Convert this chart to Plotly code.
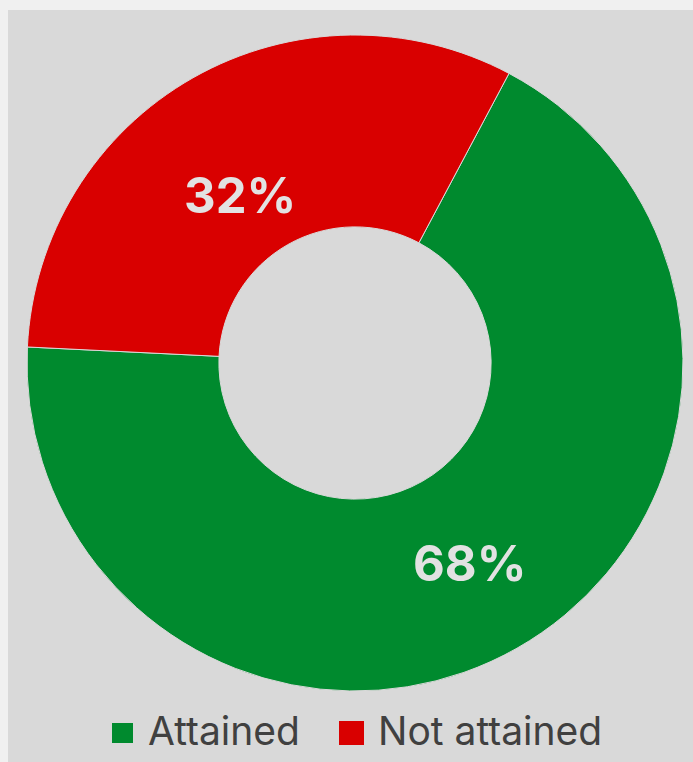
import plotly.graph_objects as go

# Share of targets attained vs not attained
categories = ["Attained", "Not attained"]
values = [68, 32]
colors = ["#008A2E", "#D90000"]

W, H = 693, 762


def px(x):
    return x / W


def py(y):
    return 1 - y / H


total = sum(values)
pct = [f"{round(100 * v / total)}%" for v in values]

fig = go.Figure()
fig.add_trace(go.Pie(
    labels=categories,
    values=values,
    marker=dict(colors=colors, line=dict(color="#d9d9d9", width=1)),
    hole=0.415,
    sort=False,
    direction="clockwise",
    rotation=28,
    textinfo="none",
    hoverinfo="label+percent",
    showlegend=False,
    domain=dict(x=[px(27), px(683)], y=[py(691), py(35)]),
))

# panel background
fig.add_shape(type="rect", xref="paper", yref="paper",
              x0=px(8), x1=1, y0=0, y1=py(10),
              fillcolor="#d9d9d9", line=dict(width=0), layer="below")

# percentage labels on the slices
label_pos = [(469, 563), (240, 195)]
for (lx, ly), t in zip(label_pos, pct):
    fig.add_annotation(x=px(lx), y=py(ly), xref="paper", yref="paper",
                       text=f"<b>{t}</b>", showarrow=False,
                       xanchor="center", yanchor="middle",
                       font=dict(family="Inter", size=49, color="#e2e2e2"))

# legend drawn as swatches + text
swatches = [(112, 133, 723, 743), (339, 364, 721, 745)]
text_x = [146, 376]
for (x0, x1, y0, y1), tx, name, c in zip(swatches, text_x, categories, colors):
    fig.add_shape(type="rect", xref="paper", yref="paper",
                  x0=px(x0), x1=px(x1), y0=py(y1), y1=py(y0),
                  fillcolor=c, line=dict(width=0))
    fig.add_annotation(x=px(tx), y=py(730), xref="paper", yref="paper",
                       text=name, showarrow=False,
                       xanchor="left", yanchor="middle",
                       font=dict(family="Inter", size=39, color="#404040"))

fig.update_layout(
    width=W, height=H,
    margin=dict(l=0, r=0, t=0, b=0),
    paper_bgcolor="#f0f0f0",
    plot_bgcolor="#d9d9d9",
)

fig.write_html("out.html")
